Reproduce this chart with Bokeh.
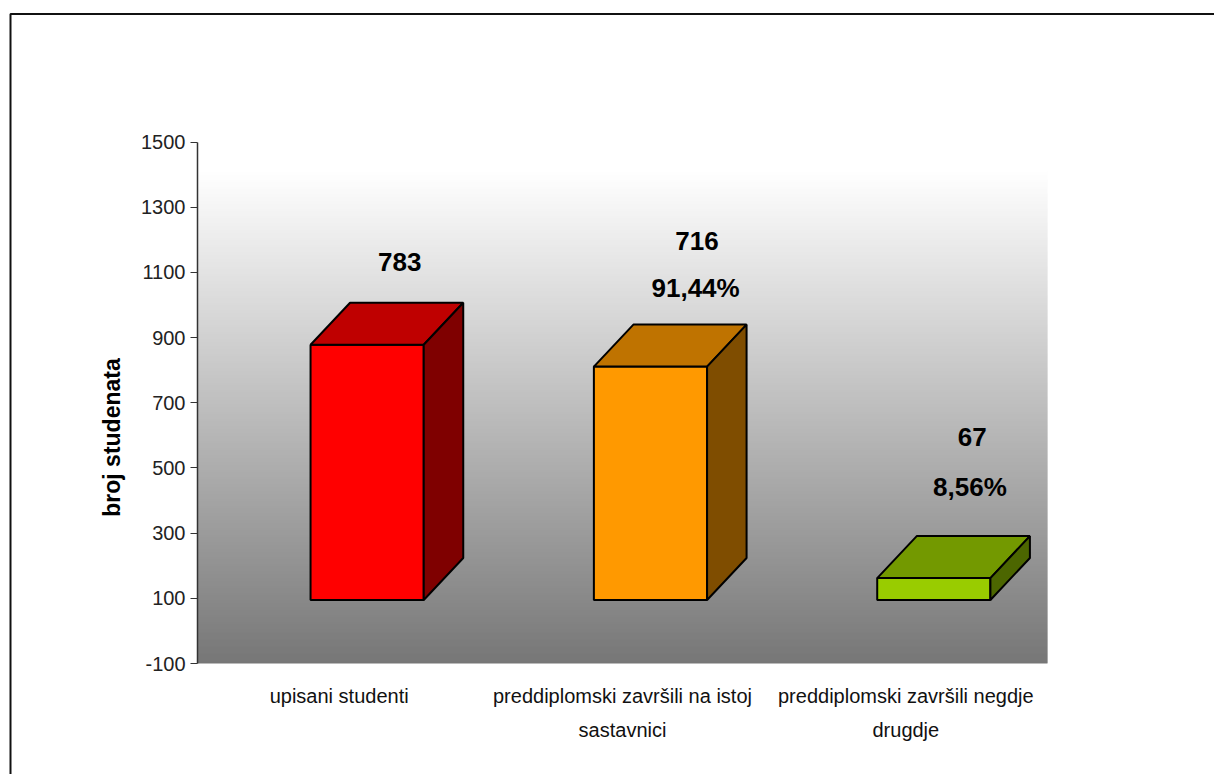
from bokeh.plotting import figure
from bokeh.models import Range1d, LinearAxis, FixedTicker
from bokeh.embed import file_html
from bokeh.resources import INLINE
from bokeh.core.properties import value

categories_line1 = ["upisani studenti", "preddiplomski završili na istoj", "preddiplomski završili negdje"]
categories_line2 = ["", "sastavnici", "drugdje"]
values = [783, 716, 67]
count_labels = ["783", "716", "67"]
share_labels = ["", "91,44%", "8,56%"]
front_colors = ["#FF0000", "#FF9900", "#99CC00"]
top_colors = ["#BF0000", "#BF7300", "#739900"]
side_colors = ["#7F0000", "#7F4D00", "#4C6600"]
y_ticks = [-100, 100, 300, 500, 700, 900, 1100, 1300, 1500]
y_title = "broj studenata"

FONT = "Liberation Sans"
W, H = 1214, 774
AX_L, AX_R, AX_T, AX_B = 197.0, 1047.0, 141.5, 663.0
Y0, Y1 = -100, 1500
UNITS_PER_PX = (Y1 - Y0) / (AX_B - AX_T)
X_PER_PX = 3 / (AX_R - AX_L)


def X(px):
    return (px - AX_L) * X_PER_PX


def Y(px):
    return Y0 + (AX_B - px) * UNITS_PER_PX


base = 95
left_off, right_off = 0.399, 0.7985
dx, dy = 39.5 * X_PER_PX, 42 * UNITS_PER_PX

p = figure(width=W, height=H, output_backend="svg", toolbar_location=None,
           x_range=Range1d(X(0), X(W)), y_range=Range1d(Y(H), Y(0)),
           min_border=0, x_axis_type=None, y_axis_type=None,
           background_fill_color="white", border_fill_color="white", outline_line_color=None)
p.grid.visible = False

# outer chart border (top and left edges, running off the page)
p.line(x=[X(W + 5), X(10), X(10)], y=[Y(13.5), Y(13.5), Y(H + 5)], line_color="#111111", line_width=2)

# back wall gradient, one strip per pixel row
n = 494
g_b, g_t, g_c = [], [], []
for k in range(n):
    f = k / (n - 1)
    lvl = int(round(0x77 + f * (0xFF - 0x77)))
    g_b.append(Y0 + k * UNITS_PER_PX)
    g_t.append(Y0 + (k + 1.6) * UNITS_PER_PX)
    g_c.append("#%02x%02x%02x" % (lvl, lvl, lvl))
p.quad(left=0, right=3, bottom=g_b, top=g_t, fill_color=g_c, line_color=None)

# 3D bars
fl = [i + left_off for i in range(3)]
fr = [i + right_off for i in range(3)]
ft = [base + v for v in values]
p.quad(left=fl, right=fr, bottom=base, top=ft, fill_color=front_colors, line_color="black", line_width=2)
p.patches([[a, a + dx, b + dx, b] for a, b in zip(fl, fr)],
          [[t, t + dy, t + dy, t] for t in ft],
          fill_color=top_colors, line_color="black", line_width=2)
p.patches([[b, b + dx, b + dx, b] for b in fr],
          [[base, base + dy, t + dy, t] for t in ft],
          fill_color=side_colors, line_color="black", line_width=2)

# data labels
cx = [i + 0.5 + 0.21 for i in range(3)]
back_top = [t + dy for t in ft]
count_nudge = [1, 15, 7]
share_nudge = [0, 15, 6]
share_lift = [-37, -37, -49]
count_lift = [-41, -84, -99]
lab = dict(text_font=value(FONT), text_font_style="bold", text_font_size="26px",
           text_align="center", text_baseline="middle", text_color="black")
p.text(x=cx, y=back_top, text=count_labels, x_offset=count_nudge, y_offset=count_lift, **lab)
p.text(x=[c - 0.005 for c in cx], y=back_top, text=share_labels, x_offset=share_nudge, y_offset=share_lift, **lab)

# y axis title
p.text(x=[X(111)], y=[Y(437)], text=[y_title], angle=90, angle_units="deg",
       text_font=value(FONT), text_font_style="bold", text_font_size="23px",
       text_align="center", text_baseline="middle", text_color="black")

# y axis
ya = LinearAxis(ticker=FixedTicker(ticks=y_ticks), fixed_location=0, bounds=(Y0, Y1),
                major_label_overrides={t: str(t) for t in y_ticks})
ya.major_label_text_font = FONT
ya.major_label_text_font_size = "20px"
ya.major_label_text_color = "#222222"
ya.major_label_standoff = 5
ya.major_tick_out = 7
ya.major_tick_in = 0
ya.minor_tick_out = 0
ya.minor_tick_in = 0
ya.axis_line_color = "#333333"
ya.axis_line_width = 1.5
ya.major_tick_line_color = "#333333"
p.add_layout(ya, "left")

# two rows of category labels
cat_ticks = [0.5, 1.5, 2.5]
for lines, standoff in ((categories_line1, 21), (categories_line2, 55)):
    xa = LinearAxis(ticker=FixedTicker(ticks=cat_ticks), fixed_location=Y0,
                    major_label_overrides={t: s for t, s in zip(cat_ticks, lines)})
    xa.major_label_text_font = FONT
    xa.major_label_text_font_size = "20px"
    xa.major_label_text_color = "#111111"
    xa.major_label_standoff = standoff
    xa.axis_line_color = None
    xa.major_tick_line_color = None
    xa.minor_tick_line_color = None
    xa.major_tick_out = 0
    xa.major_tick_in = 0
    p.add_layout(xa, "below")

open("out.html", "w").write(file_html(p, INLINE))
